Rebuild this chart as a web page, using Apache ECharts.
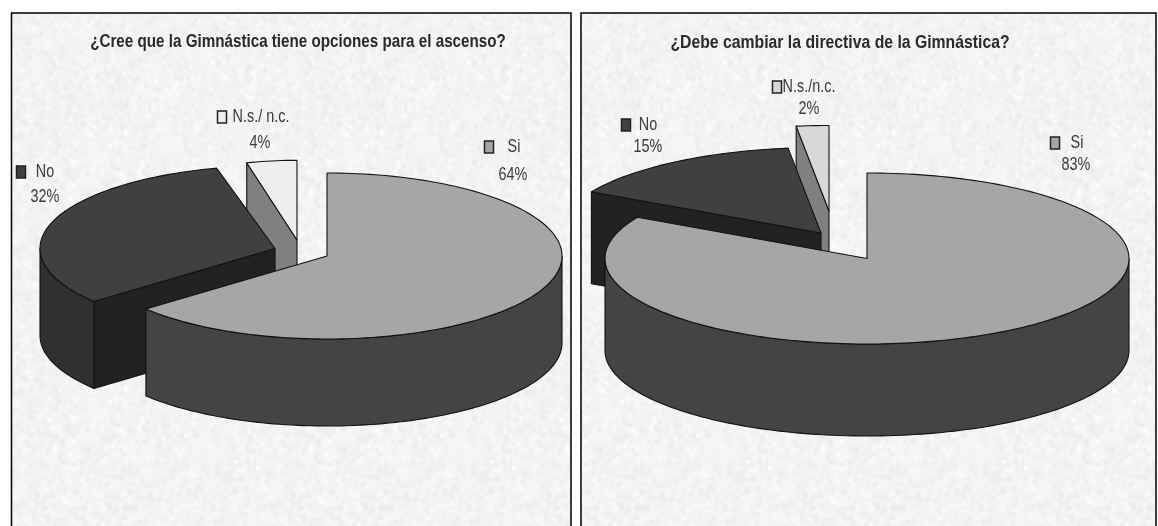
<!DOCTYPE html>
<html><head><meta charset="utf-8">
<style>html,body{margin:0;padding:0;background:#fff}#c{width:1158px;height:526px;filter:blur(0.45px)}</style>
<script src="https://cdn.jsdelivr.net/npm/echarts@6/dist/echarts.min.js"></script>
</head><body><div id="c"></div>
<script>
const categories = ['Si', 'No', 'N.s./ n.c.'];
const categoriesB = ['Si', 'No', 'N.s./n.c.'];
const valuesA = [64, 32, 4];
const valuesB = [83, 15, 2];
const titleA = '¿Cree que la Gimnástica tiene opciones para el ascenso?';
const titleB = '¿Debe cambiar la directiva de la Gimnástica?';

const panels = [
  { names: categories, values: valuesA, x: 11.5, w: 559.5, cx: 327, cy: 256, rx: 235, ry: 83, depth: 87,
    off: [[0,0],[-52,-7.5],[-30,-16]], scale: [[1,1],[1,1],[0.86,0.96]],
    top: ['#a6a6a6','#404040','#eeeeee'],
    labels: [{k:[489,147],t:[514,147],p:[513,175]},{k:[21,172],t:[45,172],p:[45,197]},{k:[222,117],t:[261,117],p:[260,143]}] },
  { names: categoriesB, values: valuesB, x: 581, w: 575, cx: 867, cy: 258.5, rx: 262, ry: 85.5, depth: 92,
    off: [[0,0],[-46,-25.5],[-38,-47.5]], scale: [[1,1],[1,1],[1,1]],
    top: ['#a6a6a6','#404040','#d8d8d8'],
    labels: [{k:[1055,143],t:[1077,143],p:[1076,165]},{k:[626,125],t:[648,125],p:[648,147]},{k:[777,87],t:[809,87],p:[809,109]}] }
];
const outerWall = ['#444444','#303030','#808080'];
const cutWall = ['#444444','#222222','#808080'];
const FONT = '"Liberation Sans",Arial,sans-serif';

function grain(){
  const n=256,cv=document.createElement('canvas');cv.width=cv.height=n;
  const g=cv.getContext('2d');g.fillStyle='#f4f4f4';g.fillRect(0,0,n,n);
  let s=12345;const r=()=>{s=(s*1103515245+12345)&0x7fffffff;return s/0x7fffffff;};
  g.filter='blur(0.8px)';
  for(let i=0;i<3800;i++){const v=r()<0.5?234+Math.floor(r()*7):247+Math.floor(r()*6);
    g.fillStyle='rgb('+v+','+v+','+v+')';g.fillRect(Math.floor(r()*n),Math.floor(r()*n),2+Math.floor(r()*3),2+Math.floor(r()*4));}
  return cv;
}
const tex=grain();

function arc(p,i,a0,a1,ox,oy,dy){
  const pts=[],steps=Math.max(2,Math.ceil(Math.abs(a1-a0)/1.5));
  const [sx,sy]=p.scale[i];
  for(let k=0;k<=steps;k++){const a=(a0+(a1-a0)*k/steps)*Math.PI/180;
    pts.push([ox+p.rx*sx*Math.sin(a),oy-p.ry*sy*Math.cos(a)+dy]);}
  return pts;
}
function makeRender(p){
  const total=p.values.reduce((a,b)=>a+b,0);
  return function(params,api){
    const i=params.dataIndex;
    let start=0;for(let j=0;j<i;j++)start+=p.values[j];
    const a0=start/total*360,a1=(start+api.value(0))/total*360;
    const ox=p.cx+p.off[i][0],oy=p.cy+p.off[i][1];
    const base=(2-i)*10+10, ch=[];
    const ln={stroke:'#111',lineWidth:1.1,lineJoin:'round'};
    const apex=[ox,oy],apexB=[ox,oy+p.depth];
    const w0=Math.max(a0,90),w1=Math.min(a1,270);
    if(w1>w0){
      const t=arc(p,i,w0,w1,ox,oy,0),b=arc(p,i,w0,w1,ox,oy,p.depth).reverse();
      ch.push({type:'polygon',z2:base+2,shape:{points:t.concat(b)},style:Object.assign({fill:outerWall[i]},ln)});
    }
    if(i>0){
      const e=arc(p,i,a0,a0,ox,oy,0)[0],eb=[e[0],e[1]+p.depth];
      ch.push({type:'polygon',z2:base+1,shape:{points:[apex,e,eb,apexB]},style:Object.assign({fill:cutWall[i]},ln)});
    }
    ch.push({type:'polygon',z2:base+3,shape:{points:[apex].concat(arc(p,i,a0,a1,ox,oy,0))},style:Object.assign({fill:p.top[i]},ln)});
    const L=p.labels[i],txt={fill:'#3a3a3a',font:'18px '+FONT,align:'center',verticalAlign:'middle'};
    ch.push({type:'rect',z2:100,shape:{x:L.k[0]-4.5,y:L.k[1]-6,width:9,height:12},style:{fill:p.top[i],stroke:'#222',lineWidth:1.5}});
    ch.push({type:'text',z2:100,x:L.t[0],y:L.t[1],scaleX:0.8,style:Object.assign({text:p.names[i]},txt)});
    ch.push({type:'text',z2:100,x:L.p[0],y:L.p[1],scaleX:0.8,style:Object.assign({text:api.value(0)+'%'},txt)});
    return {type:'group',children:ch};
  };
}
const chart=echarts.init(document.getElementById('c'),null,{renderer:'canvas'});
const titleFont='bold 19px '+FONT;
const rects=panels.map(p=>({type:'rect',z:0,shape:{x:p.x,y:13,width:p.w,height:530},style:{fill:{image:tex,repeat:'repeat'},stroke:'#000',lineWidth:1.5}}));
const titles=[[titleA,298,42,0.80],[titleB,840,43,0.83]].map(t=>({type:'text',z:5,x:t[1],y:t[2],scaleX:t[3],style:{text:t[0],font:titleFont,fill:'#2a2a2a',align:'center',verticalAlign:'middle'}}));
chart.setOption({
  animation:false,
  graphic:rects.concat(titles),
  series:panels.map(p=>({type:'custom',coordinateSystem:'none',silent:true,clip:false,renderItem:makeRender(p),data:p.values.map(v=>[v])}))
});
</script></body></html>
